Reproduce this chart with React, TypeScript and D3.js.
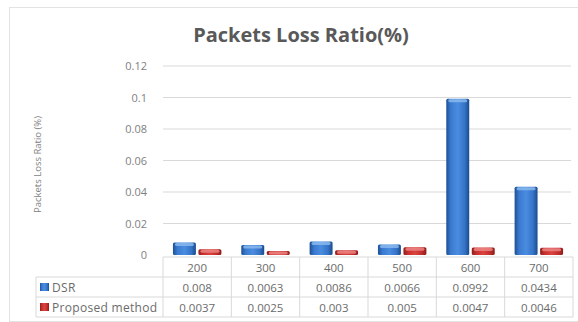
import React from "react";
import * as d3 from "d3";

const categories = ["200", "300", "400", "500", "600", "700"];
const seriesNames = ["DSR", "Proposed method"];
const dsrValues = [0.008, 0.0063, 0.0086, 0.0066, 0.0992, 0.0434];
const proposedValues = [0.0037, 0.0025, 0.003, 0.005, 0.0047, 0.0046];
const dsrLabels = ["0.008", "0.0063", "0.0086", "0.0066", "0.0992", "0.0434"];
const proposedLabels = ["0.0037", "0.0025", "0.003", "0.005", "0.0047", "0.0046"];
const yTicks = [0, 0.02, 0.04, 0.06, 0.08, 0.1, 0.12];
const yTickLabels = ["0", "0.02", "0.04", "0.06", "0.08", "0.1", "0.12"];

const W = 578;
const H = 322;
const plotLeft = 163;
const plotRight = 573;
const plotTop = 66;
const plotBottom = 255;
const rowH = 20;
const tableLeft = 36;
const font = "'Open Sans', 'DejaVu Sans', sans-serif";
const textColor = "#6b6b6b";
const gridColor = "#d9d9d9";

export default function App() {
  const y = d3.scaleLinear().domain([0, 0.12]).range([plotBottom, plotTop]);
  const x = d3.scaleBand<string>().domain(categories).range([plotLeft, plotRight]).padding(0);
  const inner = d3
    .scaleBand<string>()
    .domain(seriesNames)
    .range([0, x.bandwidth()])
    .paddingInner(0.1)
    .paddingOuter(0.39);
  const series = [
    { name: seriesNames[0], values: dsrValues, labels: dsrLabels, grad: "gBlue", cap: "#8dbbef" },
    { name: seriesNames[1], values: proposedValues, labels: proposedLabels, grad: "gRed", cap: "#ee8a8a" },
  ];
  const tableTop = plotBottom + 2;
  const rows = [tableTop, tableTop + rowH, tableTop + 2 * rowH, tableTop + 3 * rowH];

  return (
    <svg width={W} height={H} style={{ position: "absolute", left: 0, top: 0, background: "#fff" }}>
      <defs>
        <linearGradient id="gBlue" x1="0" x2="1" y1="0" y2="0">
          <stop offset="0" stopColor="#1d4f95" />
          <stop offset="0.2" stopColor="#3a7bd0" />
          <stop offset="0.5" stopColor="#4a8ce0" />
          <stop offset="0.8" stopColor="#3574c8" />
          <stop offset="1" stopColor="#1b4a8c" />
        </linearGradient>
        <linearGradient id="gRed" x1="0" x2="1" y1="0" y2="0">
          <stop offset="0" stopColor="#8e1e1c" />
          <stop offset="0.2" stopColor="#c8302e" />
          <stop offset="0.5" stopColor="#da4340" />
          <stop offset="0.8" stopColor="#c22d2b" />
          <stop offset="1" stopColor="#8a1c1a" />
        </linearGradient>
      </defs>
      <rect x={9.5} y={7.5} width={W} height={H - 8} fill="#fff" stroke="#e3e3e3" />
      <text x={301} y={42} textAnchor="middle" fontFamily={font} fontWeight="bold" fontSize={20} fill="#595959">
        Packets Loss Ratio(%)
      </text>
      <text
        transform={`translate(41,${(plotTop + plotBottom) / 2 + 4}) rotate(-90)`}
        textAnchor="middle"
        fontFamily={font}
        fontSize={9.5}
        fill="#7f7f7f"
      >
        Packets Loss Ratio (%)
      </text>
      {yTicks.map((t, i) => (
        <g key={t}>
          {t > 0 && <line x1={plotLeft} x2={plotRight - 2} y1={y(t)} y2={y(t)} stroke={gridColor} />}
          <text x={147} y={y(t) + 4} textAnchor="end" fontFamily={font} fontSize={11} fill="#7f7f7f">
            {yTickLabels[i]}
          </text>
        </g>
      ))}
      {categories.map((c, ci) =>
        series.map((s) => {
          const bx = (x(c) as number) + (inner(s.name) as number);
          const bw = inner.bandwidth();
          const top = y(s.values[ci]);
          const h = plotBottom - top;
          return (
            <g key={c + s.name}>
              <rect x={bx} y={top} width={bw} height={h} fill={`url(#${s.grad})`} rx={1.5} />
              <rect x={bx + 2} y={top + 0.5} width={bw - 4} height={Math.min(3, h)} fill={s.cap} opacity={0.8} rx={1.5} />
            </g>
          );
        })
      )}
      <g stroke={gridColor} fill="none">
        <line x1={plotLeft} x2={plotRight} y1={rows[0]} y2={rows[0]} />
        <line x1={tableLeft} x2={plotRight} y1={rows[1]} y2={rows[1]} />
        <line x1={tableLeft} x2={plotRight} y1={rows[2]} y2={rows[2]} />
        <line x1={tableLeft} x2={plotRight} y1={rows[3]} y2={rows[3]} />
        <line x1={tableLeft} x2={tableLeft} y1={rows[1]} y2={rows[3]} />
        {categories.map((c) => (
          <line key={c} x1={x(c)} x2={x(c)} y1={rows[0]} y2={rows[3]} />
        ))}
        <line x1={plotRight} x2={plotRight} y1={rows[0]} y2={rows[3]} />
      </g>
      {categories.map((c) => (
        <text
          key={c}
          x={(x(c) as number) + x.bandwidth() / 2}
          y={rows[0] + 14.5}
          textAnchor="middle"
          fontFamily={font}
          fontSize={11.5}
          fill={textColor}
        >
          {c}
        </text>
      ))}
      {series.map((s, si) => (
        <g key={s.name}>
          <rect x={40} y={rows[si + 1] + 6} width={9} height={8} fill={`url(#${s.grad})`} />
          <text x={52} y={rows[si + 1] + 14.5} fontFamily={font} fontSize={12} letterSpacing={0.3} fill={textColor}>
            {s.name}
          </text>
          {categories.map((c, ci) => (
            <text
              key={c}
              x={(x(c) as number) + x.bandwidth() / 2}
              y={rows[si + 1] + 14.5}
              textAnchor="middle"
              fontFamily={font}
              fontSize={11.5}
              fill={textColor}
            >
              {s.labels[ci]}
            </text>
          ))}
        </g>
      ))}
    </svg>
  );
}
